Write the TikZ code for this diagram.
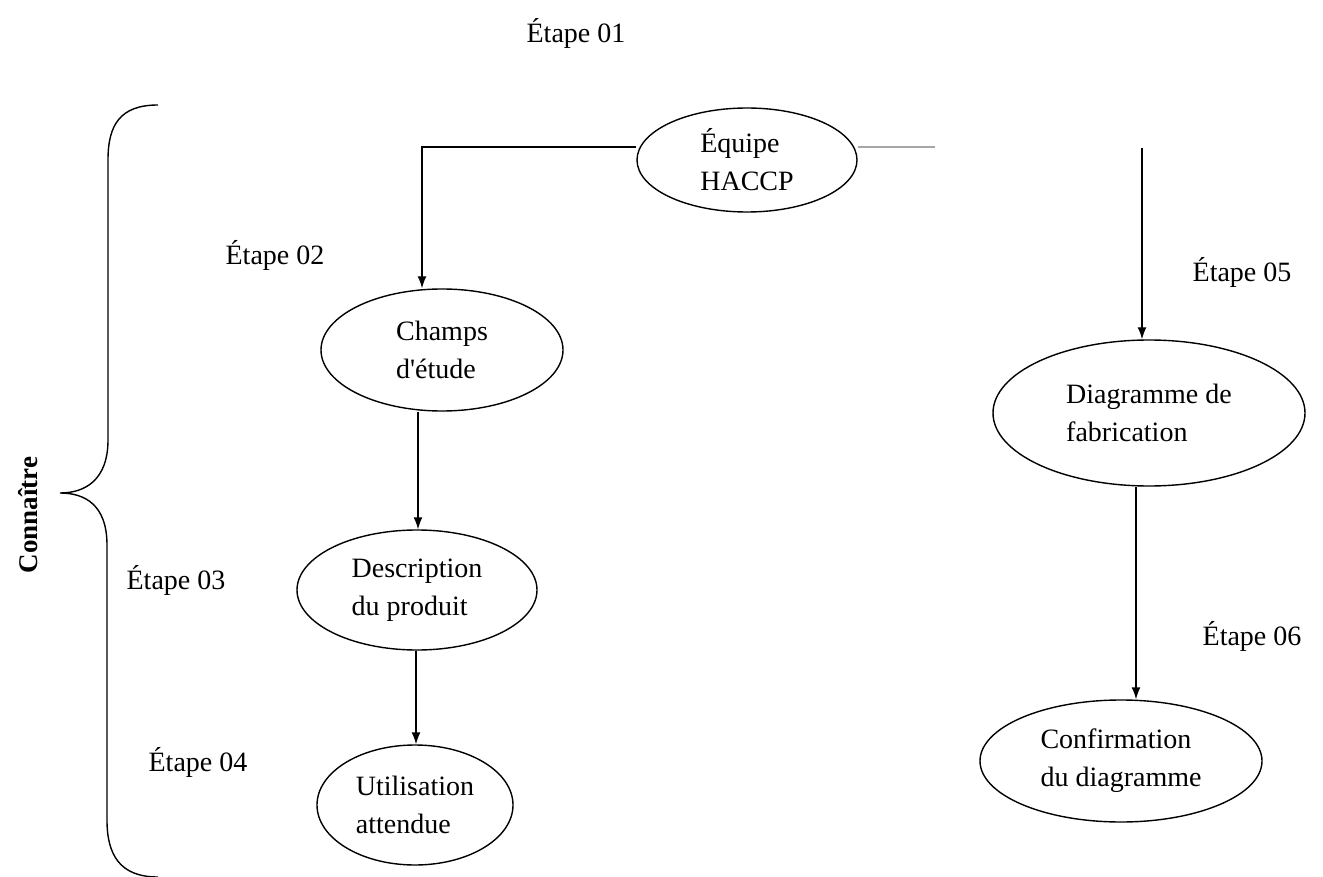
\documentclass[tikz,border=0pt]{standalone}
\usepackage{fontspec}
\setmainfont{Liberation Serif}
\newfontfamily\plainap[Ligatures=ResetAll]{Liberation Serif}
\usetikzlibrary{shapes.geometric,arrows.meta}
\begin{document}
\begin{tikzpicture}[x=1pt,y=-1pt,
  box/.style={draw, ellipse, line width=1.4pt, inner sep=0pt, align=left,
    font=\fontsize{28}{38}\selectfont},
  lbl/.style={font=\fontsize{28}{32}\selectfont},
  arr/.style={line width=1.4pt, -{Latex[length=12pt,width=9pt]}},
  ln/.style={line width=1.4pt}]
\useasboundingbox (0,0) rectangle (1323,877);
\node[lbl] (e1) at (576,33) {Étape 01};
\node[lbl] (e2) at (275,255) {Étape 02};
\node[lbl] (e3) at (176,580) {Étape 03};
\node[lbl] (e4) at (198,762) {Étape 04};
\node[lbl] (e5) at (1242,272) {Étape 05};
\node[lbl] (e6) at (1252,636) {Étape 06};

\node[box, minimum width=220pt, minimum height=104pt] (haccp) at (747,160) {Équipe\\HACCP};
\node[box, minimum width=242pt, minimum height=122pt] (champs) at (442,350) {Champs\\d{\plainap'}étude};
\node[box, minimum width=240pt, minimum height=120pt] (desc) at (417,590) {Description\\du produit};
\node[box, minimum width=196pt, minimum height=120pt] (util) at (415,805) {Utilisation\\attendue};
\node[box, minimum width=312pt, minimum height=146pt] (diag) at (1149,413) {Diagramme de\\fabrication};
\node[box, minimum width=282pt, minimum height=122pt] (conf) at (1121,761) {Confirmation\\du diagramme};

\coordinate (hl) at (422,147);
\coordinate (hr) at (935,147);
\coordinate (rs) at (1142,148);

\draw[arr] (haccp.west |- hl) -- (hl) -- (hl |- champs.north);
\draw[ln, draw=gray!70] (haccp.east |- hr) -- (hr);
\draw[arr] (rs) -- (rs |- diag.north);
\draw[arr] (418,0 |- champs.south) -- (418,0 |- desc.north);
\draw[arr] (416,0 |- desc.south) -- (416,0 |- util.north);
\draw[arr] (1136,0 |- diag.south) -- (1136,0 |- conf.north);

\coordinate (bt) at (158,105);
\coordinate (tip) at (60,493);
\coordinate (bb) at (158,877);
\draw[ln] (bt) .. controls (120,105) and (108,125) .. (108,160) -- (108,440)
  .. controls (108,480) and (85,493) .. (tip)
  .. controls (85,493) and (107,505) .. (107,545) -- (107,820)
  .. controls (107,855) and (120,877) .. (bb);
\node[rotate=90, font=\fontsize{27}{30}\selectfont\bfseries] (conn) at (28,515) {Connaître};
\end{tikzpicture}
\end{document}
